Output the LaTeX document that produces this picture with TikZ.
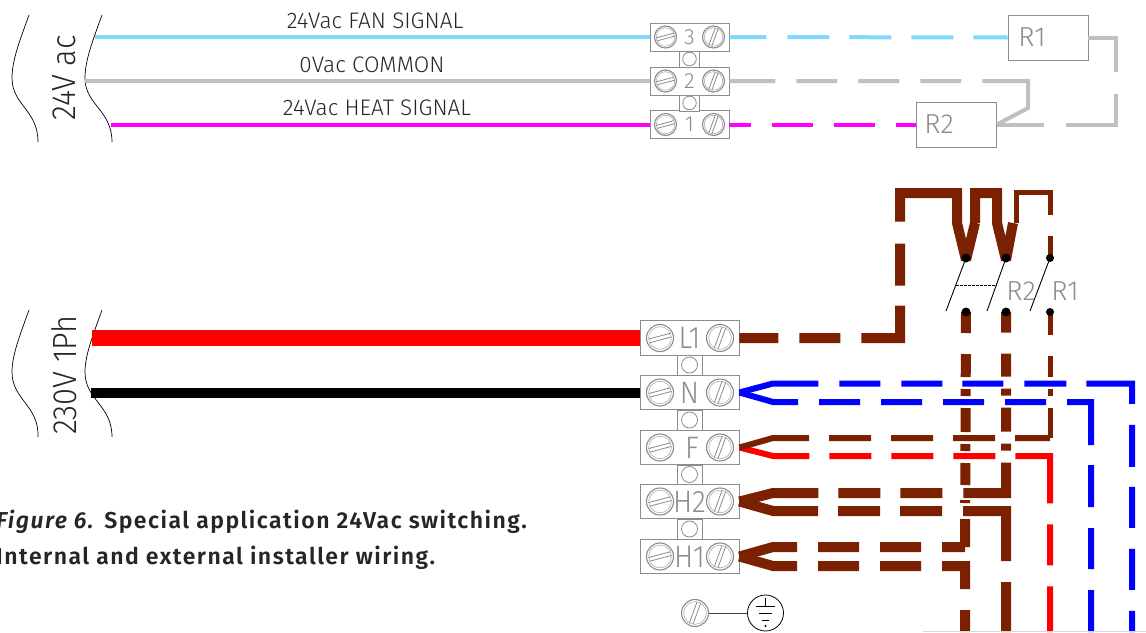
\documentclass[tikz,border=0pt]{standalone}
\usepackage{fontspec}
\setmainfont{Fira Sans}
\newfontfamily\thinf[UprightFont=* Light,FakeStretch=0.92]{Fira Sans}
\newfontfamily\widef[UprightFont=* Light]{Fira Sans}
\newfontfamily\capf[UprightFont=* SemiBold,ItalicFont=* SemiBold Italic,LetterSpace=6.4]{Fira Sans}
\definecolor{wbrown}{HTML}{7B2000}
\definecolor{wcyan}{HTML}{80D8FF}
\definecolor{wgray}{HTML}{C0C0C0}
\definecolor{wpink}{HTML}{FF00FF}
\definecolor{tgray}{HTML}{8C8C8C}
\tikzset{
 wire/.style={line cap=butt,line join=miter},
 term/.style={draw=tgray,line width=.9pt,fill=white,inner sep=0pt,text=tgray},
 smallterm/.style={term,minimum width=79pt,minimum height=28pt,font=\widef\fontsize{22}{22}\selectfont},
 bigterm/.style={term,minimum width=99pt,minimum height=34.5pt,font=\thinf\fontsize{31}{31}\selectfont},
 link/.style={draw=tgray,line width=.8pt,fill=white},
 hole/.style={draw=tgray,line width=.8pt,fill=white},
 relay/.style={draw=tgray,line width=.9pt,fill=white,minimum width=80pt,minimum height=45pt,inner sep=0pt},
 rlabel/.style={text=tgray,font=\widef\fontsize{27.5}{27.5}\selectfont,inner sep=0pt},
 wlabel/.style={text=black!85,font=\widef\fontsize{22.5}{22.5}\selectfont,inner sep=0pt},
 vlabel/.style={text=black!85,rotate=90,font=\thinf\fontsize{33.5}{33.5}\selectfont,inner sep=0pt},
 capt/.style={font=\capf\fontsize{23}{23}\selectfont,inner sep=0pt,anchor=base west,text=black!85},
 curve/.style={draw=black,line width=.7pt},
 dotk/.style={fill=black,draw=none},
 sw/.style={draw=black,line width=.9pt},
}
\newcommand{\screwat}[4]{%
 \begin{scope}[shift={(#1,#2)}]
  \draw[tgray,line width=1.1pt,fill=white] (0,0) circle[radius=#3];
  \draw[tgray!70,line width=.6pt] (0,0) circle[radius=#3*.84];
  \begin{scope}[rotate=#4]
   \draw[tgray,line width=.8pt] (-#3*.84,-#3*.14) -- (#3*.84,-#3*.14);
   \draw[tgray,line width=.8pt] (-#3*.84,#3*.14) -- (#3*.84,#3*.14);
  \end{scope}
 \end{scope}}
\begin{document}
\begin{tikzpicture}[x=1pt,y=-1pt]
\useasboundingbox (0,0) rectangle (1146,632);
\clip (0,0) rectangle (1146,632);
% bracket curves
\draw[curve] (29,15) .. controls (20,40) and (12,60) .. (12,78) .. controls (12,105) and (38,110) .. (38,142);
\draw[curve] (102,15) .. controls (93,40) and (85,60) .. (85,78) .. controls (85,105) and (112,110) .. (112,142);
\draw[curve] (29,310) .. controls (20,335) and (12,355) .. (12,372) .. controls (12,400) and (39,405) .. (38,437);
\draw[curve] (102,310) .. controls (93,335) and (85,355) .. (85,372) .. controls (85,400) and (112,405) .. (112,437);
\node[vlabel] (v24) at (64,78) {24V ac};
\node[vlabel] (v230) at (64,375) {230V 1Ph};
% terminals
\node[smallterm] (t3) at (689.5,37) {3};
\node[smallterm] (t2) at (689.5,81) {2};
\node[smallterm] (t1) at (689.5,124.5) {1};
\node[bigterm] (tL) at (689.5,338) {L1};
\node[bigterm] (tN) at (689.5,392.5) {N};
\node[bigterm] (tF) at (689.5,447.5) {\hspace*{5pt}F};
\node[bigterm] (tH2) at (689.5,501.5) {H2};
\node[bigterm] (tH1) at (689.5,556.5) {H1};
\foreach \a/\b in {51/67,95/111}{\draw[link] (679.5,\a) rectangle (699.5,\b);}
\foreach \y in {59,103}{\draw[hole] (689.5,\y) circle[radius=6.8];}
\foreach \a/\b in {355.5/375,410/430,465/484,519/539}{\draw[link] (677.5,\a) rectangle (702,\b);}
\foreach \y in {365,420,474.5,529}{\draw[hole] (689.5,\y) circle[radius=8];}
\foreach \y in {37,81,124.5}{\screwat{665.5}{\y}{11}{15}\screwat{713.5}{\y}{11}{70}}
\foreach \y in {338,392.5,447.5,501.5,556.5}{\screwat{660}{\y}{13.5}{15}\screwat{720}{\y}{13.5}{70}}
% relays
\node[relay] (R1) at (1048,37.5) {};
\node[relay] (R2) at (956.5,124.5) {};
\node[rlabel] (lR1) at (1032,37.5) {R1};
\node[rlabel] (lR2) at (939,124.5) {R2};
% source wires
\coordinate (sF) at (95,37);
\coordinate (sC) at (85,81);
\coordinate (sH) at (111,124.5);
\coordinate (sL) at (92,338);
\coordinate (sN) at (91,392.5);
\draw[wire,wcyan,line width=4pt] (sF) -- (t3.west);
\draw[wire,wgray,line width=4pt] (sC) -- (t2.west);
\draw[wire,wpink,line width=4pt] (sH) -- (t1.west);
\draw[wire,red,line width=16pt] (sL) -- (tL.west);
\draw[wire,black,line width=10pt] (sN) -- (tN.west);
\node[wlabel] (lfan) at (375,21) {24Vac FAN SIGNAL};
\node[wlabel] (lcom) at (372,65) {0Vac COMMON};
\node[wlabel] (lheat) at (377,108) {24Vac HEAT SIGNAL};
% low voltage dashed wires
\draw[wire,wcyan,line width=4pt,dash pattern=on 37pt off 21pt on 42pt off 20pt on 42pt off 20pt on 42pt off 20pt on 35pt] (t3.east) -- (R1.west);
\draw[wire,wpink,line width=4pt,dash pattern=on 22pt off 21pt on 41pt off 21pt on 41pt off 21pt on 21pt] (t1.east) -- (R2.west);
\coordinate (g1) at (1028,81);
\coordinate (g2) at (1028,108);
\draw[wire,wgray,line width=4pt,dash pattern=on 46pt off 21pt on 41pt off 21pt on 41pt off 21pt on 41pt off 21pt on 120pt] (t2.east) -- (g1) -- (g2) -- (R2.east);
\coordinate (g3) at (1116,37.5);
\coordinate (g4) at (1116,124.5);
\draw[wire,wgray,line width=4pt,dash pattern=on 62pt off 22pt on 81pt off 22pt on 60pt] (R1.east) -- (g3) -- (g4) -- (R2.east);
% heater
\coordinate (k1) at (966,260);
\coordinate (k2) at (1006,260);
\coordinate (k3) at (1050,258);
\coordinate (b1) at (966,312);
\coordinate (b2) at (1006,312);
\coordinate (b3) at (1050,312);
\coordinate (h1) at (900,338);
\coordinate (h2) at (900,193);
\coordinate (h3) at (957,193);
\coordinate (h4) at (957,223);
\coordinate (h5) at (975,223);
\coordinate (h6) at (975,193);
\coordinate (h7) at (997,193);
\coordinate (h8) at (997,223);
\coordinate (h9) at (1013,223);
\coordinate (h10) at (1016,223);
\coordinate (h11) at (1016,192);
\coordinate (h12) at (1050,192);
\draw[wire,wbrown,line width=10pt,dash pattern=on 39pt off 21pt on 41pt off 21pt on 71pt off 20pt on 42pt off 22pt on 300pt] (tL.east) -- (h1) -- (h2) -- (h3) -- (h4) -- (k1);
\draw[wire,wbrown,line width=10pt] (k1) -- (h5) (h5) -- (h6) -- (h7) -- (h8) -- (k2) (k2) -- (h9);
\draw[wire,wbrown,line width=5pt,dash pattern=on 88pt off 21pt on 30pt] (h10) -- (h11) -- (h12) -- (k3);
% horizontal fork wires to the contacts
\coordinate (n1) at (773,383.5);
\coordinate (n2) at (1132,383.5);
\coordinate (n3) at (1132,632);
\coordinate (n4) at (773,402);
\coordinate (n5) at (1091,402);
\coordinate (n6) at (1091,632);
\coordinate (f1) at (773,438);
\coordinate (f2) at (1050,438);
\coordinate (f3) at (773,456);
\coordinate (f4) at (1050,456);
\coordinate (f5) at (1050,632);
\coordinate (p1) at (773,493);
\coordinate (p2) at (1006,493);
\coordinate (p3) at (773,511);
\coordinate (p4) at (1006,511);
\coordinate (p5) at (1006,632);
\coordinate (q1) at (773,547);
\coordinate (q2) at (965,547);
\coordinate (q3) at (773,566);
\coordinate (q4) at (965,566);
\coordinate (q5) at (965,632);
\draw[wire,blue,line width=6pt,dash pattern=on 80pt off 21pt on 41pt off 21pt on 41pt off 20pt on 41pt off 21pt on 42pt off 20pt on 66pt off 21pt on 42pt off 20pt on 41pt off 21pt on 41pt off 21pt on 30pt] (tN.east) -- (n1) -- (n2) -- (n3);
\draw[wire,blue,line width=6pt,dash pattern=on 60pt off 21pt on 41pt off 21pt on 41pt off 21pt on 41pt off 21pt on 41pt off 21pt on 67pt off 20pt on 42pt off 21pt on 41pt off 21pt on 50pt] (tN.east) -- (n4) -- (n5) -- (n6);
\draw[wire,red,line width=6pt,dash pattern=on 71pt off 20pt on 42pt off 20pt on 42pt off 20pt on 42pt off 20pt on 82pt off 21pt on 41pt off 21pt on 50pt] (tF.east) -- (f3) -- (f4) -- (f5);
\draw[wire,wbrown,line width=6pt,dash pattern=on 71pt off 20pt on 42pt off 20pt on 42pt off 20pt on 42pt off 20pt on 35pt] (tF.east) -- (f1) -- (f2);
\draw[wire,wbrown,line width=5pt,dash pattern=on 30pt off 12pt on 7pt off 12pt on 21pt off 21pt on 21pt] (f2) -- (b3);
\draw[wire,wbrown,line width=10pt,dash pattern=on 80pt off 20pt on 42pt off 20pt on 42pt off 21pt on 73pt off 12pt on 7pt off 12pt on 24pt off 12pt on 7pt off 12pt on 23pt off 21pt on 21pt] (tH2.east) -- (p1) -- (p2) -- (b2);
\draw[wire,wbrown,line width=10pt,dash pattern=on 80pt off 20pt on 42pt off 20pt on 42pt off 21pt on 93pt off 21pt on 50pt] (tH2.east) -- (p3) -- (p4) -- (p5);
\draw[wire,wbrown,line width=10pt,dash pattern=on 59pt off 21pt on 41pt off 21pt on 41pt off 21pt on 60pt] (tH1.east) -- (q1) -- (q2);
\draw[wire,wbrown,line width=10pt,dash pattern=on 28pt off 16pt on 3pt off 15pt on 22pt off 12pt on 7pt off 12pt on 24pt off 12pt on 7pt off 12pt on 23pt off 21pt on 21pt] (q2) -- (b1);
\draw[wire,wbrown,line width=10pt,dash pattern=on 59pt off 21pt on 41pt off 21pt on 41pt off 21pt on 46pt off 21pt on 30pt] (tH1.east) -- (q3) -- (q4) -- (q5);
% contacts
\coordinate (c1) at (966,258);
\coordinate (c2) at (1006,258);
\foreach \c in {c1,c2,b1,b2}{\fill[dotk] (\c) circle[radius=4.5];}
\foreach \c in {k3,b3}{\fill[dotk] (\c) circle[radius=4];}
\coordinate (s1) at (946,311);
\coordinate (s2) at (987,311);
\coordinate (s3) at (1030,311);
\coordinate (d1) at (956,285);
\coordinate (d2) at (997,285);
\draw[sw] (c1) -- (s1);
\draw[sw] (c2) -- (s2);
\draw[sw] (k3) -- (s3);
\draw[black,line width=.7pt,dash pattern=on 2.5pt off 1.5pt] (d1) -- (d2);
\node[rlabel] (lk2) at (1021,291) {R2};
\node[rlabel] (lk1) at (1065,291) {R1};
% earth
\coordinate (es) at (695,613);
\node[circle,draw=black,line width=.8pt,minimum size=36pt,inner sep=0pt] (earth) at (765.5,613) {};
\draw[black!75,line width=.9pt] (es) -- (earth.west);
\screwat{695}{613}{13.5}{70}
\draw[black,line width=.8pt] (765.5,598) -- (765.5,606);
\draw[black,line width=.8pt] (756,606) -- (775,606);
\draw[black,line width=.8pt] (759,613) -- (772,613);
\draw[black,line width=.8pt] (762,620) -- (769,620);
\fill[black] (765.5,626) circle[radius=1.2];
% bottom edge line
\coordinate (e1) at (923,631.5);
\coordinate (e2) at (1146,631.5);
\draw[black!15,line width=1pt] (e1) -- (e2);
% caption
\node[capt] (cap1) at (-4,528) {\textit{Figure 6.} Special application 24Vac switching.};
\node[capt] (cap2) at (-4,564) {Internal and external installer wiring.};
\end{tikzpicture}
\end{document}
